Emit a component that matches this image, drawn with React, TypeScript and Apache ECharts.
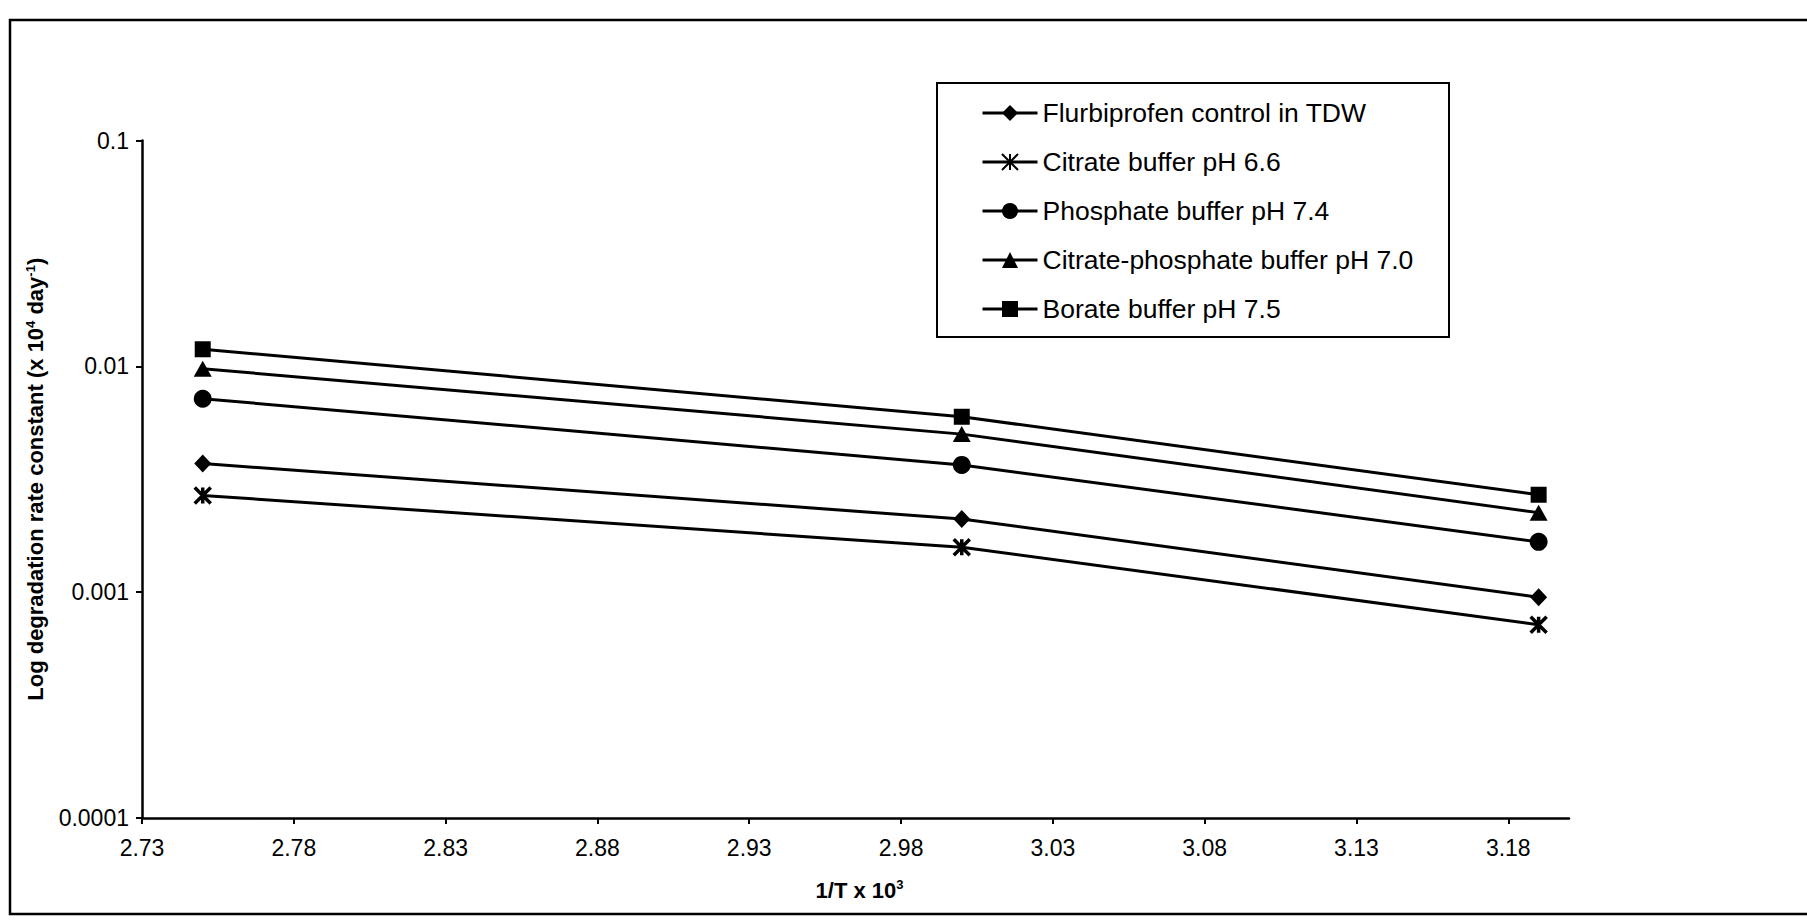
import React, { useEffect, useRef } from 'react';
import * as echarts from 'echarts';

// 1/T x 10^3 at which the rate constants were measured
const xValues = [2.75, 3.0, 3.19];

// Degradation rate constants (x 10^4 day^-1), one array per medium
const controlTDW = [0.00371, 0.00211, 0.00095];
const citrate66 = [0.00268, 0.00158, 0.000718];
const phosphate74 = [0.00719, 0.00366, 0.00167];
const citPhos70 = [0.00976, 0.00501, 0.00225];
const borate75 = [0.0119, 0.00598, 0.0027];

const seriesNames = [
  'Flurbiprofen control in TDW',
  'Citrate buffer pH 6.6',
  'Phosphate buffer pH 7.4',
  'Citrate-phosphate buffer pH 7.0',
  'Borate buffer pH 7.5',
];

const xTickLabels = ['2.73', '2.78', '2.83', '2.88', '2.93', '2.98', '3.03', '3.08', '3.13', '3.18'];
const yTickLabels = ['0.0001', '0.001', '0.01', '0.1'];

const FONT = 'Arial, "Liberation Sans", sans-serif';
const ASTERISK = 'path://M0 0L20 20M20 0L0 20M10 0L10 20';

const seriesValues = [controlTDW, citrate66, phosphate74, citPhos70, borate75];
const seriesSymbols: any[] = ['diamond', ASTERISK, 'circle', 'triangle', 'rect'];
const seriesSizes: any[] = [[17, 18], 16, 18, [18, 16], 16];

function buildOption() {
  const xTicks = xTickLabels.map(Number);
  const series = seriesNames.map((name, s) => ({
    name,
    type: 'line',
    data: xValues.map((x, i) => [x, seriesValues[s][i]]),
    symbol: seriesSymbols[s],
    symbolSize: seriesSizes[s],
    showSymbol: true,
    lineStyle: { color: '#000', width: 3 },
    itemStyle:
      s === 1
        ? { color: '#000', borderColor: '#000', borderWidth: 3.5 }
        : { color: '#000', borderWidth: 0 },
    emphasis: { disabled: true },
  }));

  const supStyle = {
    fontSize: 13,
    fontWeight: 'bold',
    fontFamily: FONT,
    color: '#000',
    lineHeight: 14,
    verticalAlign: 'top',
  };

  return {
    animation: false,
    backgroundColor: '#fff',
    textStyle: { fontFamily: FONT, color: '#000' },
    grid: {
      left: 142,
      right: 238,
      top: 140.5,
      bottom: 105,
      containLabel: false,
      outerBoundsMode: 'none',
    },
    xAxis: {
      type: 'value',
      min: 2.73,
      max: 3.2,
      splitLine: { show: false },
      axisLine: { show: true, onZero: false, lineStyle: { color: '#000', width: 2.5 } },
      axisTick: {
        show: true,
        inside: false,
        length: 6,
        customValues: xTicks,
        lineStyle: { color: '#000', width: 2 },
      },
      axisLabel: {
        customValues: xTicks,
        formatter: (v: number) => v.toFixed(2),
        fontSize: 23,
        color: '#000',
        fontFamily: FONT,
        margin: 18,
      },
      name: '1/T x 10{sup|3}',
      nameLocation: 'middle',
      nameGap: 60,
      nameTextStyle: {
        fontSize: 22,
        fontWeight: 'bold',
        color: '#000',
        fontFamily: FONT,
        lineHeight: 24,
        padding: [0, 0, 0, 8],
        rich: { sup: supStyle },
      },
    },
    yAxis: {
      type: 'log',
      logBase: 10,
      min: 0.0001,
      max: 0.1,
      splitLine: { show: false },
      minorTick: { show: false },
      axisLine: { show: true, lineStyle: { color: '#000', width: 2.5 } },
      axisTick: { show: true, inside: false, length: 6, lineStyle: { color: '#000', width: 2 } },
      axisLabel: {
        formatter: (v: number) => yTickLabels[Math.round(Math.log10(v)) + 4] ?? '',
        fontSize: 23,
        color: '#000',
        fontFamily: FONT,
        margin: 13,
      },
      name: 'Log degradation rate constant (x 10{sup|4} day{sup|-1})',
      nameLocation: 'middle',
      nameRotate: 90,
      nameGap: 94,
      nameTextStyle: {
        fontSize: 22,
        fontWeight: 'bold',
        color: '#000',
        fontFamily: FONT,
        lineHeight: 24,
        rich: { sup: supStyle },
      },
    },
    legend: {
      orient: 'vertical',
      left: 976,
      top: 94,
      itemWidth: 55,
      itemHeight: 20,
      itemGap: 21,
      selectedMode: false,
      data: seriesNames,
      lineStyle: { width: 3 },
      textStyle: { fontSize: 26.5, color: '#000', fontFamily: FONT, lineHeight: 28 },
    },
    graphic: [
      {
        type: 'rect',
        silent: true,
        z: -1,
        shape: { x: 10, y: 20, width: 1900, height: 894 },
        style: { fill: 'none', stroke: '#000', lineWidth: 2.5 },
      },
      {
        type: 'rect',
        silent: true,
        z: -1,
        shape: { x: 937, y: 83, width: 512, height: 254 },
        style: { fill: '#fff', stroke: '#000', lineWidth: 2 },
      },
    ],
    series,
  };
}

export default function App() {
  const ref = useRef<HTMLDivElement>(null);
  useEffect(() => {
    if (!ref.current) return;
    const chart = echarts.init(ref.current, null, { renderer: 'svg' });
    chart.setOption(buildOption() as any);
    return () => chart.dispose();
  }, []);
  return (
    <div
      ref={ref}
      style={{ position: 'absolute', left: 0, top: 0, width: 1807, height: 923, background: '#fff' }}
    />
  );
}
